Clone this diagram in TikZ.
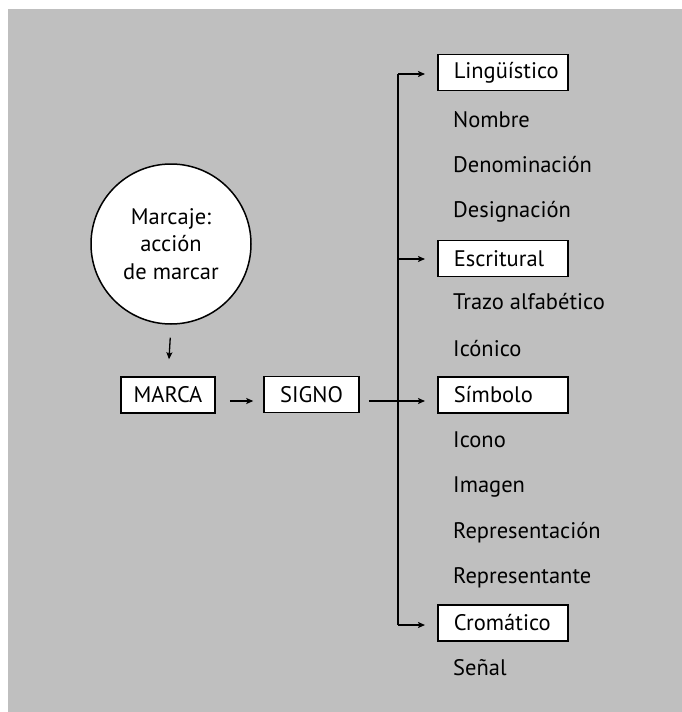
\documentclass[tikz,border=0pt]{standalone}
\usepackage{fontspec}
\setmainfont{PT Sans}
\usetikzlibrary{arrows.meta}
\definecolor{panel}{RGB}{191,191,191}
\newcommand\labelfont{\fontsize{22.5}{24}\selectfont}
\tikzset{
  arr/.style={line width=1.3pt,-{Stealth[length=7pt,width=6pt,inset=1.5pt]}},
  catbox/.style={draw,line width=1.5pt,fill=white,anchor=west,text width=98pt,align=left,
    inner xsep=16pt,minimum height=36pt,inner ysep=0pt,font=\labelfont},
  mainbox/.style={draw,line width=1.5pt,fill=white,inner sep=0pt,minimum height=36pt,
    font=\labelfont},
  item/.style={anchor=west,inner sep=0pt,font=\labelfont},
}
\begin{document}
\begin{tikzpicture}[x=1pt,y=-1pt]
\useasboundingbox (0,0) rectangle (682,712);
\fill[panel] (8,9) rectangle (682,712);

% origin of the chain
\node[circle,draw,line width=1.5pt,fill=white,minimum size=160pt,inner sep=0pt,align=center,
  font=\fontsize{22.5}{27.5}\selectfont] (accion) at (171,244) {Marcaje:\\acción\\de marcar};
\node[mainbox,minimum width=94pt] (marca) at (168,395) {MARCA};
\node[mainbox,minimum width=95pt] (signo) at (311.5,394.5) {SIGNO};

% categories and their items
\node[catbox] (ling) at (437,72.5) {Lingüístico};
\node[item] (nombre) at (453,120) {Nombre};
\node[item] (denom) at (453,165) {Denominación};
\node[item] (design) at (453,212) {Designación};
\node[catbox] (escr) at (437,258.5) {Escritural};
\node[item] (trazo) at (453,302) {Trazo alfabético};
\node[item] (iconico) at (453,349) {Icónico};
\node[catbox] (simb) at (437,395) {Símbolo};
\node[item] (icono) at (453,440) {Icono};
\node[item] (imagen) at (453,487) {Imagen};
\node[item] (repcion) at (453,533) {Representación};
\node[item] (repte) at (453,578) {Representante};
\node[catbox] (crom) at (437,623) {Cromático};
\node[item] (senal) at (453,668) {Señal};

% connectors
\draw[arr,shorten <=13pt,shorten >=17pt] (accion.south) -- (marca.north);
\draw[arr,shorten <=14pt,shorten >=10pt] ([yshift=-6pt]marca.east) -- ([yshift=-6pt]marca.east -| signo.west);
\draw[arr,shorten <=9pt,shorten >=12pt] ([yshift=-6.5pt]signo.east) -- ([yshift=-6.5pt]signo.east -| simb.west);

\coordinate (vtop) at (398,74);
\coordinate (vmid) at (398,259);
\coordinate (vbot) at (398,625);
\draw[line width=1.3pt] (vtop) -- (vbot);
\draw[arr,shorten >=12pt] (vtop) -- (vtop -| ling.west);
\draw[arr,shorten >=12pt] (vmid) -- (vmid -| escr.west);
\draw[arr,shorten >=12pt] (vbot) -- (vbot -| crom.west);
\end{tikzpicture}
\end{document}
